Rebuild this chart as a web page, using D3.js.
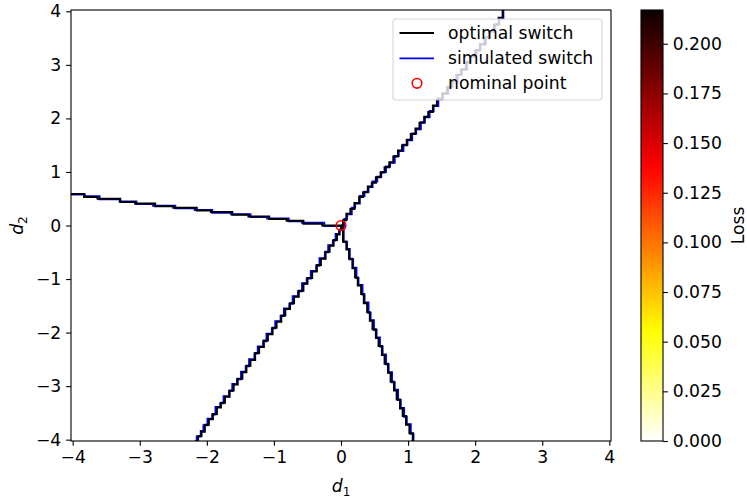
<!DOCTYPE html>
<html><head><meta charset="utf-8">
<script src="https://cdn.jsdelivr.net/npm/d3@7"></script>
<style>body{margin:0;background:#fff} svg{display:block} text{font-family:"DejaVu Sans",sans-serif;fill:#000}</style>
</head><body><svg id="c" width="747" height="499"></svg>
<script>
// ---------- data ----------
const xTicks = [-4, -3, -2, -1, 0, 1, 2, 3, 4];
const yTicks = [-4, -3, -2, -1, 0, 1, 2, 3, 4];
const cbTicks = [0, 0.025, 0.05, 0.075, 0.1, 0.125, 0.15, 0.175, 0.2];
const lossMax = 0.217;
const lossBackground = 0.0;
const nominalPoint = [0, 0];
const legendLabels = ["optimal switch", "simulated switch", "nominal point"];

// optimal switch branches (staircase corner points, [d1, d2])
const optLeft = [[-4.03,0.59],[-3.83,0.53],[-3.63,0.50],[-3.29,0.44],[-3.07,0.41],[-2.77,0.36],[-2.50,0.33],[-2.15,0.28],[-1.94,0.25],[-1.62,0.20],[-1.38,0.17],[-1.07,0.12],[-0.81,0.09],[-0.56,0.035],[-0.28,0.0],[0.0,0.0]];
const optUpRight = [[0.00,0.00],[0.03,0.10],[0.08,0.22],[0.14,0.31],[0.20,0.42],[0.27,0.53],[0.33,0.62],[0.40,0.73],[0.46,0.80],[0.52,0.90],[0.59,0.99],[0.65,1.09],[0.72,1.18],[0.78,1.29],[0.85,1.40],[0.91,1.50],[0.98,1.60],[1.04,1.71],[1.11,1.81],[1.17,1.92],[1.24,2.03],[1.30,2.12],[1.37,2.24],[1.43,2.36],[1.51,2.47],[1.58,2.58],[1.65,2.70],[1.72,2.81],[1.79,2.92],[1.86,3.05],[1.93,3.16],[2.00,3.27],[2.07,3.39],[2.14,3.51],[2.21,3.63],[2.28,3.75],[2.35,3.88],[2.41,4.03]];
const optLowLeft = [[-2.17,-4.03],[-2.13,-3.93],[-2.08,-3.85],[-2.03,-3.72],[-1.97,-3.62],[-1.91,-3.52],[-1.85,-3.40],[-1.79,-3.31],[-1.73,-3.20],[-1.66,-3.08],[-1.60,-2.97],[-1.54,-2.86],[-1.47,-2.74],[-1.41,-2.62],[-1.35,-2.51],[-1.28,-2.38],[-1.22,-2.27],[-1.15,-2.15],[-1.09,-2.03],[-1.02,-1.91],[-0.96,-1.80],[-0.89,-1.68],[-0.83,-1.56],[-0.76,-1.45],[-0.70,-1.33],[-0.63,-1.22],[-0.56,-1.09],[-0.50,-0.98],[-0.43,-0.86],[-0.36,-0.74],[-0.30,-0.62],[-0.23,-0.49],[-0.17,-0.38],[-0.11,-0.27],[-0.06,-0.17],[-0.02,-0.08],[0.00,0.00]];
const optLowRight = [[0.00,-0.02],[0.03,-0.30],[0.08,-0.45],[0.12,-0.62],[0.17,-0.80],[0.21,-0.97],[0.25,-1.12],[0.30,-1.28],[0.34,-1.45],[0.39,-1.62],[0.43,-1.78],[0.47,-1.94],[0.52,-2.10],[0.56,-2.25],[0.61,-2.42],[0.65,-2.58],[0.70,-2.75],[0.74,-2.92],[0.79,-3.08],[0.83,-3.25],[0.88,-3.42],[0.92,-3.56],[0.97,-3.72],[1.02,-3.88],[1.07,-4.03]];

// simulated switch branches
const simLeft = [[-4.03,0.58],[-3.82,0.545],[-3.60,0.49],[-3.30,0.45],[-3.05,0.40],[-2.80,0.37],[-2.47,0.32],[-2.18,0.29],[-1.92,0.24],[-1.64,0.21],[-1.35,0.16],[-1.10,0.13],[-0.78,0.08],[-0.58,0.05],[-0.25,-0.01],[0.0,-0.01]];
const simUpRight = [[0.00,0.00],[0.05,0.12],[0.09,0.21],[0.16,0.33],[0.21,0.41],[0.28,0.55],[0.35,0.63],[0.41,0.72],[0.47,0.82],[0.54,0.91],[0.60,1.00],[0.67,1.10],[0.73,1.17],[0.80,1.30],[0.86,1.39],[0.93,1.51],[0.99,1.59],[1.06,1.72],[1.12,1.80],[1.19,1.93],[1.25,2.02],[1.32,2.14],[1.38,2.23],[1.45,2.37],[1.52,2.46],[1.60,2.59],[1.66,2.69],[1.74,2.82],[1.80,2.91],[1.88,3.06],[1.94,3.15],[2.02,3.28],[2.08,3.38],[2.16,3.52],[2.22,3.62],[2.30,3.76],[2.36,3.87],[2.42,4.03]];
const simLowLeft = [[-2.18,-4.03],[-2.15,-3.94],[-2.09,-3.84],[-2.05,-3.73],[-1.99,-3.61],[-1.92,-3.53],[-1.87,-3.39],[-1.80,-3.32],[-1.75,-3.19],[-1.67,-3.09],[-1.62,-2.96],[-1.55,-2.87],[-1.49,-2.73],[-1.42,-2.63],[-1.37,-2.50],[-1.29,-2.39],[-1.24,-2.26],[-1.16,-2.16],[-1.11,-2.02],[-1.03,-1.92],[-0.98,-1.79],[-0.90,-1.69],[-0.85,-1.55],[-0.77,-1.46],[-0.72,-1.32],[-0.64,-1.23],[-0.58,-1.08],[-0.51,-0.99],[-0.45,-0.85],[-0.37,-0.75],[-0.32,-0.61],[-0.24,-0.50],[-0.19,-0.37],[-0.12,-0.28],[-0.08,-0.16],[-0.03,-0.09],[0.00,0.00]];
const simLowRight = [[0.00,-0.02],[0.04,-0.31],[0.09,-0.44],[0.13,-0.63],[0.18,-0.79],[0.23,-0.98],[0.26,-1.11],[0.32,-1.29],[0.35,-1.44],[0.41,-1.63],[0.44,-1.77],[0.49,-1.95],[0.53,-2.09],[0.58,-2.26],[0.62,-2.41],[0.67,-2.59],[0.71,-2.74],[0.76,-2.93],[0.80,-3.07],[0.85,-3.26],[0.89,-3.41],[0.94,-3.57],[0.98,-3.71],[1.04,-3.89],[1.08,-4.03]];

// ---------- drawing ----------
const svg = d3.select("#c");
const FS = 17.2, TICK = 4.86, PAD = 4.86;
const L = 71, R = 611, T = 10, B = 441;
const x = d3.scaleLinear([-4.025, 4.025], [L, R]);
const y = d3.scaleLinear([-4.025, 4.025], [B, T]);

// hot_r colormap
function hot(t){ t=Math.max(0,Math.min(1,t));
  const r = t<0.365079 ? 0.0416+(1-0.0416)*t/0.365079 : 1;
  const g = t<0.365079 ? 0 : (t<0.746032 ? (t-0.365079)/(0.746032-0.365079) : 1);
  const b = t<0.746032 ? 0 : (t-0.746032)/(1-0.746032);
  return d3.rgb(r*255,g*255,b*255).formatHex(); }
const color = v => hot(1 - v / lossMax);

const defs = svg.append("defs");
defs.append("clipPath").attr("id","clip").append("rect").attr("x",L).attr("y",T).attr("width",R-L).attr("height",B-T);

// loss field (uniform background)
svg.append("rect").attr("x",L).attr("y",T).attr("width",R-L).attr("height",B-T).attr("fill",color(lossBackground));

const line = d3.line().x(d=>x(d[0])).y(d=>y(d[1])).curve(d3.curveStepAfter);
const plot = svg.append("g").attr("clip-path","url(#clip)");
[simLeft, simUpRight, simLowLeft, simLowRight].forEach(s=>{
  plot.append("path").attr("d",line(s)).attr("fill","none").attr("stroke","#0000ff").attr("stroke-width",2);
});
[optLeft, optUpRight, optLowLeft, optLowRight].forEach(s=>{
  plot.append("path").attr("d",line(s)).attr("fill","none").attr("stroke","#000").attr("stroke-width",2);
});
plot.append("circle").attr("cx",x(nominalPoint[0])).attr("cy",y(nominalPoint[1])).attr("r",4.8)
  .attr("fill","none").attr("stroke","#ff0000").attr("stroke-width",1.6);

// axes
const fmt = d => d<0 ? "\u2212"+Math.abs(d) : String(d);
const gx = svg.append("g").attr("transform",`translate(0,${B})`)
  .call(d3.axisBottom(x).tickValues(xTicks).tickSize(TICK).tickPadding(PAD).tickFormat(fmt));
const gy = svg.append("g").attr("transform",`translate(${L},0)`)
  .call(d3.axisLeft(y).tickValues(yTicks).tickSize(TICK).tickPadding(PAD).tickFormat(fmt));
[gx,gy].forEach(g=>{
  g.select(".domain").remove();
  g.selectAll("line").attr("stroke","#000").attr("stroke-width",1.1);
  g.selectAll("text").attr("font-size",FS).attr("font-family","DejaVu Sans").attr("fill","#000");
});
svg.append("rect").attr("x",L).attr("y",T).attr("width",R-L).attr("height",B-T)
  .attr("fill","none").attr("stroke","#000").attr("stroke-width",1.1);

// axis labels
const xl = svg.append("text").attr("x",x(0)).attr("y",492).attr("text-anchor","middle").attr("font-size",FS);
xl.append("tspan").attr("font-style","italic").text("d");
xl.append("tspan").attr("font-size",FS*0.7).attr("dy",3.5).text("1");
const yl = svg.append("text").attr("transform",`translate(23,${y(0)}) rotate(-90)`).attr("text-anchor","middle").attr("font-size",FS);
yl.append("tspan").attr("font-style","italic").text("d");
yl.append("tspan").attr("font-size",FS*0.7).attr("dy",3.5).text("2");

// legend
const lg = svg.append("g");
lg.append("rect").attr("x",393).attr("y",19).attr("width",209).attr("height",81).attr("rx",3)
  .attr("fill","#fff").attr("fill-opacity",0.8).attr("stroke","#ccc").attr("stroke-opacity",0.8).attr("stroke-width",1.1);
const rows = [33, 58.3, 83.3];
lg.append("line").attr("x1",399.5).attr("x2",434).attr("y1",rows[0]).attr("y2",rows[0]).attr("stroke","#000").attr("stroke-width",1.8);
lg.append("line").attr("x1",399.5).attr("x2",434).attr("y1",rows[1]).attr("y2",rows[1]).attr("stroke","#0000ff").attr("stroke-width",1.8);
lg.append("circle").attr("cx",417).attr("cy",rows[2]).attr("r",4.8).attr("fill","none").attr("stroke","#ff0000").attr("stroke-width",1.6);
legendLabels.forEach((t,i)=>{
  lg.append("text").attr("x",448).attr("y",rows[i]).attr("dy","0.36em").attr("font-size",FS).text(t);
});

// colorbar
const CL = 641, CR = 663;
const cy = d3.scaleLinear([0, lossMax], [B, T]);
const grad = defs.append("linearGradient").attr("id","cg").attr("x1",0).attr("x2",0).attr("y1",1).attr("y2",0);
d3.range(0,1.0001,0.02).forEach(t=>grad.append("stop").attr("offset",t).attr("stop-color",color(t*lossMax)));
svg.append("rect").attr("x",CL).attr("y",T).attr("width",CR-CL).attr("height",B-T).attr("fill","url(#cg)");
svg.append("rect").attr("x",CL).attr("y",T).attr("width",CR-CL).attr("height",B-T).attr("fill","none").attr("stroke","#000").attr("stroke-width",1.1);
const gc = svg.append("g").attr("transform",`translate(${CR},0)`)
  .call(d3.axisRight(cy).tickValues(cbTicks).tickSize(TICK).tickPadding(PAD).tickFormat(d3.format(".3f")));
gc.select(".domain").remove();
gc.selectAll("line").attr("stroke","#000").attr("stroke-width",1.1);
gc.selectAll("text").attr("font-size",FS).attr("font-family","DejaVu Sans").attr("fill","#000");
svg.append("text").attr("transform",`translate(744,${y(0)}) rotate(-90)`).attr("text-anchor","middle").attr("font-size",FS).text("Loss");
</script></body></html>
